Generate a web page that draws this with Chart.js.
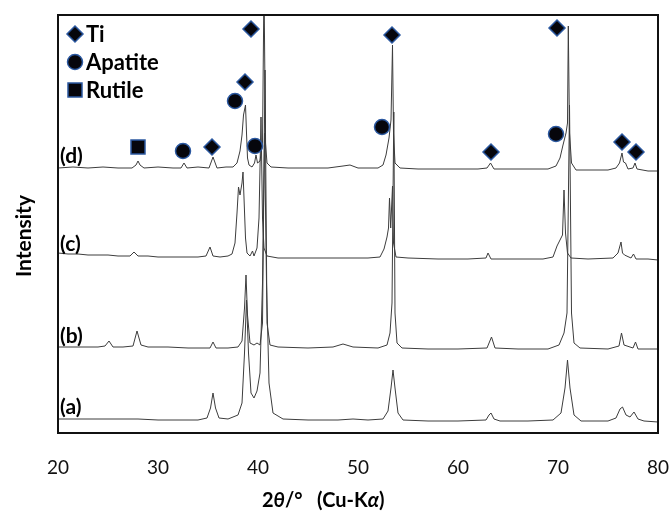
<!DOCTYPE html>
<html>
<head>
<meta charset="utf-8">
<title>XRD patterns</title>
<script src="https://cdn.jsdelivr.net/npm/chart.js@4.4.1/dist/chart.umd.min.js"></script>
<style>
  html, body { margin: 0; padding: 0; background: #fff; }
  #wrap { width: 672px; height: 517px; }
</style>
</head>
<body>
<div id="wrap"><canvas id="xrd" width="672" height="517"></canvas></div>
<script>
// 2theta (deg) / intensity (arb. units, traces stacked)
const traceD = [[20,265],[21.5,266],[23,265],[24.5,266],[26,265],[27.4,265],[27.8,268],[28.0,272],[28.2,268],[28.6,265],[30,266],[31.5,265],[32.3,265],[32.6,270],[32.9,265],[34,266],[35.1,265],[35.5,276],[35.9,265],[36.8,266],[37.5,266],[37.9,270],[38.2,282],[38.4,298],[38.55,318],[38.65,323],[38.75,328],[38.85,300],[38.95,275],[39.1,268],[39.4,266],[39.65,270],[39.8,278],[39.95,270],[40.2,272],[40.45,290],[40.6,450],[40.75,290],[40.9,270],[41.3,266],[43,265],[45,265],[47,265],[48.5,267],[49.2,268],[50,265],[52,265],[52.5,268],[52.8,278],[53.1,295],[53.3,313],[53.45,388],[53.55,300],[53.7,270],[54.2,265],[56,264],[58,264],[60,264],[62,264],[62.9,265],[63.25,270],[63.6,264],[65,264],[67,264],[69,264],[69.8,267],[70.2,275],[70.5,288],[70.8,300],[70.95,310],[71.03,407],[71.15,300],[71.35,270],[71.8,263],[73,263],[75,263],[75.8,265],[76.15,270],[76.4,280],[76.55,271],[76.75,270],[77.0,264],[77.5,265],[77.7,270],[77.9,264],[79,262],[80,262]];
const traceC = [[20,180],[21,179],[22,179],[23,178],[24,178],[25,178],[26,177],[27.2,177],[27.6,181],[28.0,177],[29,177],[30,176],[32,176],[34,176],[34.8,177],[35.2,186],[35.5,177],[36.2,176],[37,177],[37.4,179],[37.7,190],[37.9,220],[38.05,246],[38.2,238],[38.4,250],[38.5,261],[38.6,235],[38.75,195],[38.9,180],[39.2,177],[39.45,182],[39.6,177],[39.9,185],[40.1,215],[40.3,316],[40.45,215],[40.6,185],[40.9,177],[42,175],[45,175],[48,175],[51,175],[52.2,176],[52.6,184],[52.9,196],[53.05,205],[53.15,235],[53.27,205],[53.45,247],[53.55,190],[53.8,176],[55,175],[58,174],[61,174],[62.8,175],[63.0,180],[63.3,174],[66,174],[68.5,174],[69.5,176],[69.9,187],[70.2,193],[70.45,198],[70.6,243],[70.75,200],[70.95,180],[71.3,175],[73,174],[75.5,175],[76,180],[76.3,191],[76.45,180],[76.65,178],[77.3,175],[77.55,179],[77.8,174],[79,174],[80,173]];
const traceB = [[20,86],[22,86],[24,86],[24.7,87],[25.1,92],[25.5,86],[26.5,86],[27.5,87],[27.9,102],[28.3,88],[29,86],[31,86],[33,85],[35.2,85],[35.5,91],[35.8,85],[37,85],[38,86],[38.4,92],[38.65,125],[38.8,158],[38.95,118],[39.2,90],[39.6,88],[39.9,90],[40.2,88],[40.45,110],[40.7,363],[40.9,110],[41.2,88],[42,86],[45,85],[47.5,86],[48.5,89],[49.5,86],[52,85],[52.9,88],[53.2,100],[53.4,130],[53.58,321],[53.7,120],[53.9,90],[54.4,85],[57,84],[60,84],[62.9,85],[63.35,96],[63.7,85],[66,84],[69,84],[70.1,88],[70.6,100],[70.9,120],[71.15,328],[71.35,120],[71.6,90],[72.2,85],[75,84],[76.1,87],[76.35,100],[76.6,88],[77.5,85],[77.75,91],[78,84],[80,84]];
const traceA = [[20,14],[22,14],[24,14],[26,14],[28,14],[30,13],[32,13],[34,13],[34.9,15],[35.25,25],[35.5,40],[35.75,25],[36.1,15],[37,14],[38,18],[38.4,30],[38.65,80],[38.85,133],[39.05,80],[39.3,40],[39.6,35],[39.9,42],[40.2,60],[40.45,150],[40.65,300],[40.85,150],[41.1,50],[41.5,20],[42.5,14],[45,13],[48,13],[49.5,14],[51,13],[52.5,14],[53.0,22],[53.3,45],[53.5,63],[53.7,45],[54.0,20],[54.5,13],[57,12],[60,12],[62.8,13],[63.1,18],[63.3,20],[63.6,14],[64.2,12],[67,12],[69.5,13],[70.3,20],[70.7,45],[70.95,73],[71.2,45],[71.6,18],[72.3,12],[75,12],[75.8,15],[76.2,24],[76.45,26],[76.8,18],[77.2,16],[77.6,21],[78,14],[78.6,12],[80,11]];

// phase markers (2theta, height)
const tiMarks = [[35.4,286],[38.7,351],[39.3,404],[53.4,398],[63.3,281],[69.9,405],[76.4,291],[77.8,281]];
const apatiteMarks = [[32.5,282],[37.7,332],[39.7,287],[52.4,306],[69.8,299]];
const rutileMarks = [[28.0,286]];

const xTicks = [20, 30, 40, 50, 60, 70, 80];
const traceLabels = ['(d)', '(c)', '(b)', '(a)'];
const legendNames = ['Ti', 'Apatite', 'Rutile'];

const FONT = 'Lato';
const markFill = '#06060c';
const markEdge = '#2b58a0';

function drawMark(ctx, style, x, y) {
  ctx.beginPath();
  if (style === 'rectRot') {
    ctx.moveTo(x, y - 8); ctx.lineTo(x + 8, y); ctx.lineTo(x, y + 8); ctx.lineTo(x - 8, y);
    ctx.closePath();
  } else if (style === 'circle') {
    ctx.arc(x, y, 7.5, 0, Math.PI * 2);
  } else {
    ctx.rect(x - 7, y - 7, 14, 14);
  }
  ctx.fillStyle = markFill;
  ctx.fill();
  ctx.lineWidth = 1.5;
  ctx.strokeStyle = markEdge;
  ctx.stroke();
}

// frame, legend, trace labels, axis titles
const decorPlugin = {
  id: 'decor',
  afterDraw(chart) {
    const ctx = chart.ctx;
    const a = chart.chartArea;
    ctx.save();
    ctx.strokeStyle = '#111';
    ctx.lineWidth = 2;
    ctx.strokeRect(a.left, a.top, a.right - a.left, a.bottom - a.top);

    // legend
    const styles = ['rectRot', 'circle', 'rect'];
    const ly = [34, 62, 90];
    ctx.textBaseline = 'middle';
    ctx.textAlign = 'left';
    legendNames.forEach((name, i) => {
      drawMark(ctx, styles[i], 75, ly[i]);
      ctx.fillStyle = '#000';
      ctx.font = 'bold 22px ' + FONT;
      ctx.fillText(name, 86, ly[i] + 1);
    });

    // trace labels
    const labelY = [156, 244, 336, 407];
    ctx.font = 'bold 21px ' + FONT;
    traceLabels.forEach((t, i) => ctx.fillText(t, 60, labelY[i]));

    // y title
    ctx.save();
    ctx.translate(24, 236);
    ctx.rotate(-Math.PI / 2);
    ctx.textAlign = 'center';
    ctx.font = 'bold 21px ' + FONT;
    ctx.fillText('Intensity', 0, 0);
    ctx.restore();

    // x title with italic greek letters
    const parts = [['2', 'bold'], ['\u03b8', 'italic bold'], ['/\u00b0', 'bold'], ['   (Cu-K', 'bold'], ['\u03b1', 'italic bold'], [')', 'bold']];
    let x = 262;
    parts.forEach(([txt, w]) => {
      ctx.font = w + ' 20px ' + FONT;
      ctx.fillText(txt, x, 501);
      x += ctx.measureText(txt).width;
    });
    ctx.restore();
  }
};

function traceSet(data) {
  return { data: data, showLine: true, borderColor: '#3c3c3c', borderWidth: 1, pointRadius: 0, tension: 0, clip: 0, order: 2 };
}
function markSet(data, style, r) {
  return { data: data, showLine: false, pointStyle: style, pointRadius: r, backgroundColor: markFill, borderColor: markEdge, borderWidth: 1.5, order: 1 };
}

new Chart(document.getElementById('xrd'), {
  type: 'scatter',
  data: {
    datasets: [
      markSet(tiMarks, 'rectRot', 8),
      markSet(apatiteMarks, 'circle', 7.5),
      markSet(rutileMarks, 'rect', 9.9),
      traceSet(traceD),
      traceSet(traceC),
      traceSet(traceB),
      traceSet(traceA)
    ]
  },
  options: {
    responsive: false,
    animation: false,
    layout: { padding: { left: 58, right: 14, top: 15, bottom: 0 } },
    plugins: { legend: { display: false }, tooltip: { enabled: false } },
    scales: {
      x: {
        type: 'linear', min: 20, max: 80,
        grid: { display: false, drawTicks: false },
        border: { display: false },
        afterBuildTicks: (s) => { s.ticks = xTicks.map(v => ({ value: v })); },
        afterFit: (s) => { s.paddingLeft = 0; s.paddingRight = 0; s.height = 84; },
        ticks: { padding: 23, autoSkip: false, maxRotation: 0, color: '#111', font: { family: FONT, size: 19 } }
      },
      y: { display: false, min: 0, max: 418 }
    }
  },
  plugins: [decorPlugin]
});
</script>
</body>
</html>
